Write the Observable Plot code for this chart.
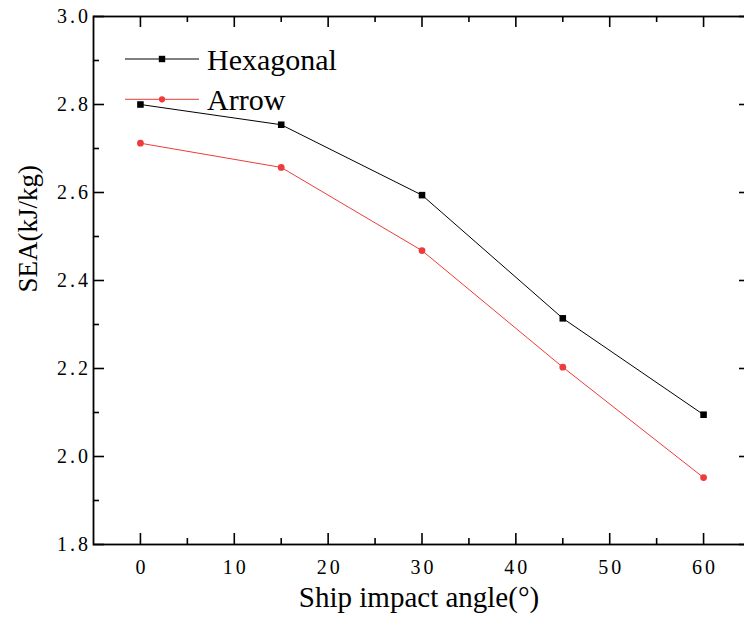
<!DOCTYPE html>
<html><head><meta charset="utf-8">
<script src="https://cdn.jsdelivr.net/npm/d3@7"></script>
<script src="https://cdn.jsdelivr.net/npm/@observablehq/plot@0.6"></script>
<style>
body{margin:0;background:#fff;}
#wrap{position:relative;width:744px;height:628px;overflow:hidden;}
#wrap svg.chart{max-width:none !important;height:628px !important;}
#legend{position:absolute;left:0;top:0;}
</style></head><body><div id="wrap"></div>
<script>
// ---- data ----
const angles = [0, 15, 30, 45, 60];
const hexagonal = [2.800, 2.754, 2.594, 2.314, 2.095];
const arrow = [2.712, 2.657, 2.468, 2.203, 1.952];
const seriesNames = ["Hexagonal", "Arrow"];
const seriesColors = ["#000000", "#ee3b3b"];
const seriesSymbols = ["square", "circle"];
const xTicks = [0, 10, 20, 30, 40, 50, 60];
const xMinorTicks = [5, 15, 25, 35, 45, 55];
const yTicks = [1.8, 2.0, 2.2, 2.4, 2.6, 2.8, 3.0];
const yMinorTicks = [1.9, 2.1, 2.3, 2.5, 2.7, 2.9];
const xTitle = "Ship impact angle(°)";
const yTitle = "SEA(kJ/kg)";

const rows = [];
[hexagonal, arrow].forEach((vals, i) => {
  angles.forEach((a, j) => rows.push({series: seriesNames[i], angle: a, sea: vals[j]}));
});

// the reference frame's right edge is cropped just outside the picture
const W = 750, H = 628, mL = 93, mR = 0, mT = 16, mB = 84;
const pw = W - mL - mR, ph = H - mT - mB;
const font = "Liberation Serif";
const major = 11, minor = 6, tw = 1.6;

const chart = Plot.plot({
  width: W, height: H,
  marginLeft: mL, marginRight: mR, marginTop: mT, marginBottom: mB,
  style: {background: "#fff", color: "#000", fontFamily: font, maxWidth: "none"},
  x: {domain: [-5, 65]},
  y: {domain: [1.8, 3.0]},
  color: {domain: seriesNames, range: seriesColors},
  symbol: {domain: seriesNames, range: seriesSymbols},
  marks: [
    Plot.frame({stroke: "#000", strokeWidth: 1.8}),
    // inward ticks bottom/top
    Plot.tickX(xTicks, {x: d => d, insetTop: ph - major, stroke: "#000", strokeWidth: tw}),
    Plot.tickX(xMinorTicks, {x: d => d, insetTop: ph - minor, stroke: "#000", strokeWidth: tw}),
    Plot.tickX(xTicks, {x: d => d, insetBottom: ph - major, stroke: "#000", strokeWidth: tw}),
    Plot.tickX(xMinorTicks, {x: d => d, insetBottom: ph - minor, stroke: "#000", strokeWidth: tw}),
    // inward ticks left (major + minor) / right (major)
    Plot.tickY(yTicks, {y: d => d, insetRight: pw - major, stroke: "#000", strokeWidth: tw}),
    Plot.tickY(yMinorTicks, {y: d => d, insetRight: pw - minor, stroke: "#000", strokeWidth: tw}),
    Plot.tickY(yTicks, {y: d => d, insetLeft: pw - major, stroke: "#000", strokeWidth: tw}),
    // tick labels
    Plot.axisX(xTicks, {tickSize: 0, tickPadding: 15, label: null, fontSize: 20, fontFamily: font, dx: 1.5}),
    Plot.axisY(yTicks, {tickSize: 0, tickPadding: 2.5, label: null, tickFormat: d3.format(".1f"), fontSize: 20, fontFamily: font}),
    // titles
    Plot.text([xTitle], {frameAnchor: "bottom", dy: 62.4, dx: -3, fontSize: 29, fontFamily: font, fill: "#000"}),
    Plot.text([yTitle], {frameAnchor: "left", dx: -65.6, dy: 12, rotate: -90, fontSize: 27, fontFamily: font, fill: "#000"}),
    // data
    Plot.line(rows, {x: "angle", y: "sea", z: "series", stroke: "series", strokeWidth: 1}),
    Plot.dot(rows.filter(r => r.series === seriesNames[0]), {x: "angle", y: "sea", symbol: "series", fill: "series", r: 3.7, stroke: null}),
    Plot.dot(rows.filter(r => r.series === seriesNames[1]), {x: "angle", y: "sea", symbol: "series", fill: "series", r: 3.4, stroke: null})
  ]
});
chart.classList.add("chart");

const wrap = document.getElementById("wrap");
wrap.appendChild(chart);
d3.select(chart).selectAll("g, text").attr("font-family", font).style("font-family", font).style("font-variant", "normal");
d3.select(chart).selectAll('g[aria-label="x-axis tick label"] text, g[aria-label="y-axis tick label"] text')
  .style("letter-spacing", "3px");

// legend overlay
const leg = d3.select(wrap).append("svg").attr("id", "legend").attr("width", 744).attr("height", 130);
const legY = [59, 99.3];
seriesNames.forEach((name, i) => {
  const g = leg.append("g");
  g.append("line").attr("x1", 125).attr("x2", 199).attr("y1", legY[i]).attr("y2", legY[i])
    .attr("stroke", seriesColors[i]).attr("stroke-width", 1);
  if (seriesSymbols[i] === "square") {
    g.append("rect").attr("x", 162 - 3.2).attr("y", legY[i] - 3.2).attr("width", 6.4).attr("height", 6.4).attr("fill", seriesColors[i]);
  } else {
    g.append("circle").attr("cx", 162).attr("cy", legY[i]).attr("r", 3.1).attr("fill", seriesColors[i]);
  }
  g.append("text").attr("x", 207).attr("y", legY[i] + 10.5).text(name)
    .attr("font-family", font).attr("font-size", 30).attr("fill", "#000");
});
</script>
</body></html>
